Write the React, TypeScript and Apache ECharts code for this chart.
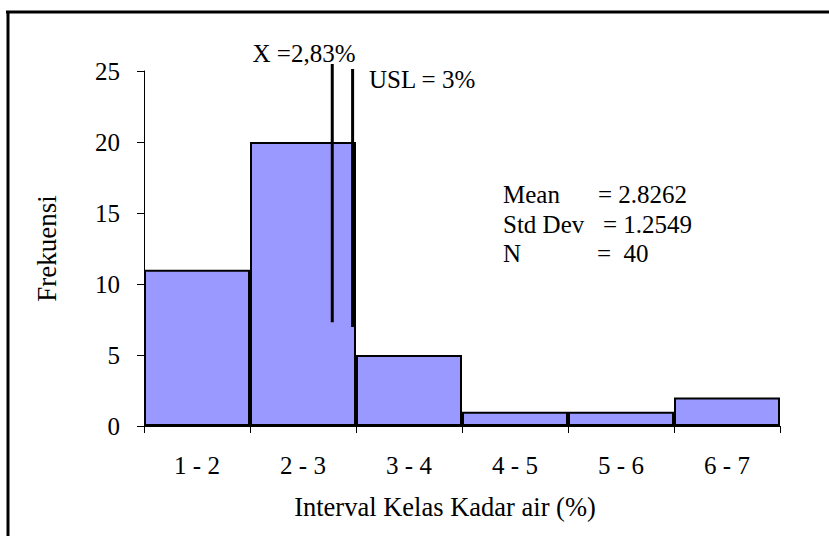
import React, { useEffect, useRef } from "react";
import * as echarts from "echarts";

const categories = ["1 - 2", "2 - 3", "3 - 4", "4 - 5", "5 - 6", "6 - 7"];
const frequencies = [11, 20, 5, 1, 1, 2];
const yTicks = { min: 0, max: 25, interval: 5 };
const meanLine = [[2.776, 7.3], [2.776, 25.5]];
const uslLine = [[2.968, 6.97], [2.968, 25.14]];
const meanLabel = "X =2,83%";
const uslLabel = "USL = 3%";
const statNames = ["Mean", "Std Dev", "N"];
const statValues = ["= 2.8262", "= 1.2549", "=  40"];

const FONT = "'Liberation Serif', 'Times New Roman', serif";

export default function App() {
  const ref = useRef<HTMLDivElement>(null);
  useEffect(() => {
    document.body.style.margin = "0";
    const chart = echarts.init(ref.current!, undefined, { renderer: "svg" });
    const statX = [598, 603, 597];
    const statY = [194, 224, 253];
    const graphics: any[] = [
      { type: "line", shape: { x1: 6, y1: 12, x2: 829, y2: 12 }, style: { stroke: "#000", lineWidth: 3 } },
      { type: "line", shape: { x1: 8, y1: 11, x2: 8, y2: 536 }, style: { stroke: "#000", lineWidth: 3 } },
      { type: "text", x: 304, y: 53, style: { text: meanLabel, font: `25px ${FONT}`, fill: "#000", align: "center", verticalAlign: "middle" } },
      { type: "text", x: 369, y: 79, style: { text: uslLabel, font: `25px ${FONT}`, fill: "#000", align: "left", verticalAlign: "middle" } },
    ];
    statNames.forEach((n, i) => {
      graphics.push({ type: "text", x: 503, y: statY[i], style: { text: n, font: `25px ${FONT}`, fill: "#000", align: "left", verticalAlign: "middle" } });
      graphics.push({ type: "text", x: statX[i], y: statY[i], style: { text: statValues[i], font: `25px ${FONT}`, fill: "#000", align: "left", verticalAlign: "middle" } });
    });
    chart.setOption({
      animation: false,
      backgroundColor: "#fff",
      textStyle: { fontFamily: FONT, color: "#000" },
      grid: { left: 144, right: 49, top: 71, bottom: 110, containLabel: false },
      xAxis: [
        {
          type: "category",
          data: categories,
          boundaryGap: true,
          axisLine: { show: true, lineStyle: { color: "#000", width: 1 } },
          axisTick: { show: true, length: 7, lineStyle: { color: "#000", width: 1 } },
          axisLabel: { fontSize: 25, color: "#000", fontFamily: FONT, margin: 27 },
          name: "Interval Kelas Kadar air (%)",
          nameLocation: "middle",
          nameGap: 67,
          nameTextStyle: { fontSize: 26.5, color: "#000", fontFamily: FONT, padding: [0, 34, 0, 0] },
          splitLine: { show: false },
        },
        { type: "value", min: 1, max: 7, show: false },
      ],
      yAxis: {
        type: "value",
        min: yTicks.min,
        max: yTicks.max,
        interval: yTicks.interval,
        axisLine: { show: true, lineStyle: { color: "#000", width: 1 } },
        axisTick: { show: true, length: 7, lineStyle: { color: "#000", width: 1 } },
        axisLabel: { fontSize: 25, color: "#000", fontFamily: FONT, margin: 24 },
        splitLine: { show: false },
        name: "Frekuensi",
        nameLocation: "middle",
        nameGap: 84,
        nameRotate: 90,
        nameTextStyle: { fontSize: 27, color: "#000", fontFamily: FONT },
      },
      series: [
        {
          type: "bar",
          data: frequencies,
          barCategoryGap: "0%",
          itemStyle: { color: "#9999FF", borderColor: "#000", borderWidth: 2 },
        },
        {
          type: "line",
          xAxisIndex: 1,
          data: meanLine,
          symbol: "none",
          clip: false,
          lineStyle: { color: "#000", width: 3 },
        },
        {
          type: "line",
          xAxisIndex: 1,
          data: uslLine,
          symbol: "none",
          clip: false,
          lineStyle: { color: "#000", width: 3 },
        },
      ],
      graphic: graphics,
    });
    return () => chart.dispose();
  }, []);
  return <div ref={ref} style={{ width: 829, height: 536 }} />;
}
